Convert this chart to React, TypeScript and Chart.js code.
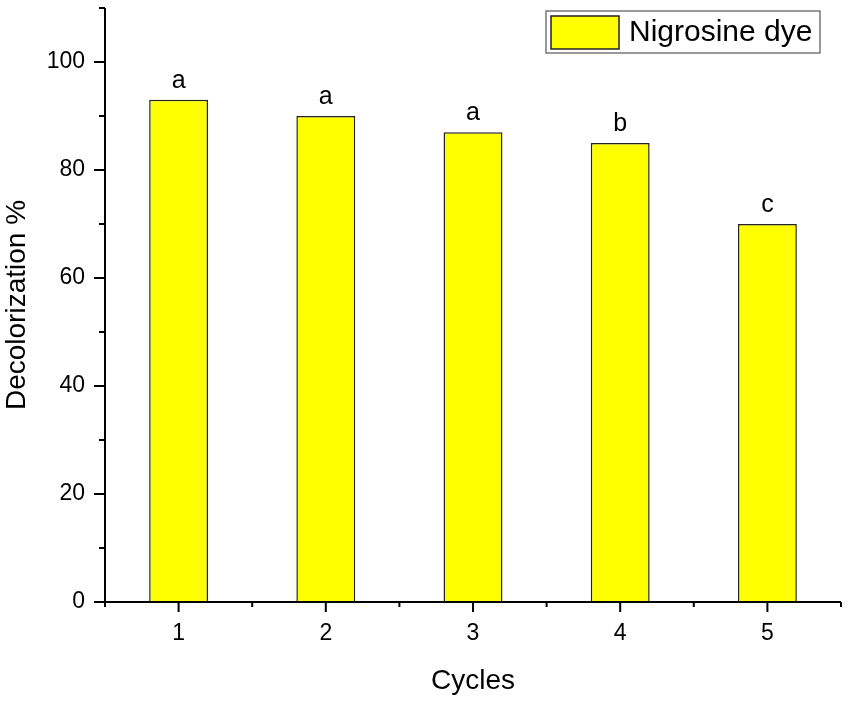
import React, { useRef, useEffect } from 'react';
import Chart from 'chart.js/auto';

const cycles = ['1', '2', '3', '4', '5'];
const decolorization = [93, 90, 87, 85, 70];
const groupLetters = ['a', 'a', 'a', 'b', 'c'];
const yMajorTicks = [0, 20, 40, 60, 80, 100];
const yMinorTicks = [10, 30, 50, 70, 90, 110];
const seriesLabel = 'Nigrosine dye';

const FONT = "'Liberation Sans', Arial, sans-serif";

// axes, ticks, letters above bars and the boxed legend
const decorPlugin = {
    id: 'decor',
    afterDraw(chart: any) {
        const { ctx, chartArea, scales } = chart;
        const xs = scales.x;
        const ys = scales.y;
        const { left, right, top, bottom } = chartArea;

        ctx.save();
        ctx.strokeStyle = '#000';
        ctx.lineWidth = 2;
        ctx.beginPath();
        ctx.moveTo(left, top);
        ctx.lineTo(left, bottom);
        ctx.moveTo(left - 1, bottom);
        ctx.lineTo(right, bottom);
        yMajorTicks.forEach(v => {
            const py = ys.getPixelForValue(v);
            ctx.moveTo(left - 11, py);
            ctx.lineTo(left, py);
        });
        yMinorTicks.forEach(v => {
            const py = ys.getPixelForValue(v);
            ctx.moveTo(left - 6, py);
            ctx.lineTo(left, py);
        });
        cycles.forEach((_, i) => {
            const px = xs.getPixelForValue(i);
            ctx.moveTo(px, bottom);
            ctx.lineTo(px, bottom + 10);
        });
        for (let i = 0; i <= cycles.length; i++) {
            const px = xs.getPixelForValue(i - 0.5);
            ctx.moveTo(px, bottom);
            ctx.lineTo(px, bottom + 5);
        }
        ctx.stroke();

        // significance letters
        const meta = chart.getDatasetMeta(0);
        ctx.fillStyle = '#000';
        ctx.font = `25px ${FONT}`;
        ctx.textAlign = 'center';
        ctx.textBaseline = 'alphabetic';
        meta.data.forEach((bar: any, i: number) => {
            ctx.fillText(groupLetters[i], bar.x, bar.y - 12);
        });

        // legend
        const ds = chart.data.datasets[0];
        const boxR = right - 21;
        const boxL = boxR - 274;
        const boxT = top + 3;
        const boxH = 42;
        ctx.lineWidth = 1.5;
        ctx.strokeStyle = '#777';
        ctx.strokeRect(boxL, boxT, boxR - boxL, boxH);
        ctx.fillStyle = ds.backgroundColor;
        ctx.fillRect(boxL + 5, boxT + 5, 68, 33);
        ctx.strokeStyle = '#222';
        ctx.lineWidth = 1.5;
        ctx.strokeRect(boxL + 5, boxT + 5, 68, 33);
        ctx.fillStyle = '#000';
        ctx.font = `30px ${FONT}`;
        ctx.textAlign = 'left';
        ctx.textBaseline = 'middle';
        ctx.fillText(ds.label, boxL + 83, boxT + boxH / 2 + 1);
        ctx.restore();
    }
};

const BarChart: React.FC = () => {
    const chartRef = useRef<HTMLCanvasElement>(null);

    useEffect(() => {
        const ctx = chartRef.current?.getContext('2d');
        if (!ctx) return;

        const chart = new Chart(ctx, {
            type: 'bar',
            data: {
                labels: cycles,
                datasets: [
                    {
                        label: seriesLabel,
                        data: decolorization,
                        backgroundColor: '#FFFF00',
                        borderColor: '#222',
                        borderWidth: 1.5,
                        categoryPercentage: 1,
                        barPercentage: 0.4,
                    }
                ]
            },
            options: {
                responsive: true,
                maintainAspectRatio: false,
                animation: false,
                layout: {
                    padding: { top: 8, right: 10, left: 0, bottom: 0 }
                },
                plugins: {
                    legend: { display: false },
                    tooltip: { enabled: false },
                },
                scales: {
                    x: {
                        offset: true,
                        grid: { display: false, drawTicks: false },
                        border: { display: false },
                        ticks: {
                            color: '#000',
                            font: { family: FONT, size: 23 },
                            padding: 18,
                            maxRotation: 0,
                            minRotation: 0,
                        },
                        title: {
                            display: true,
                            text: 'Cycles',
                            color: '#000',
                            font: { family: FONT, size: 28 },
                            padding: { top: 0, bottom: 5 },
                        },
                        afterFit: (scale: any) => {
                            scale.height = 101;
                            scale.paddingLeft = 0;
                            scale.paddingRight = 0;
                        }
                    },
                    y: {
                        min: 0,
                        max: 110,
                        grid: { display: false, drawTicks: false },
                        border: { display: false },
                        afterBuildTicks: (scale: any) => {
                            scale.ticks = yMajorTicks.map(v => ({ value: v }));
                        },
                        ticks: {
                            color: '#000',
                            font: { family: FONT, size: 23 },
                            padding: 20,
                        },
                        title: {
                            display: true,
                            text: 'Decolorization %',
                            color: '#000',
                            font: { family: FONT, size: 28 },
                            padding: { top: 0, bottom: 0 },
                        },
                        afterFit: (scale: any) => {
                            scale.width = 105;
                            scale.paddingTop = 0;
                            scale.paddingBottom = 0;
                        }
                    }
                }
            },
            plugins: [decorPlugin]
        });

        return () => chart.destroy();
    }, []);

    return <canvas ref={chartRef}/>;
};

export default function App() {
    return (
        <div style={{ position: 'absolute', left: 0, top: 0, width: 851, height: 703, background: '#fff' }}>
            <BarChart/>
        </div>
    );
}
